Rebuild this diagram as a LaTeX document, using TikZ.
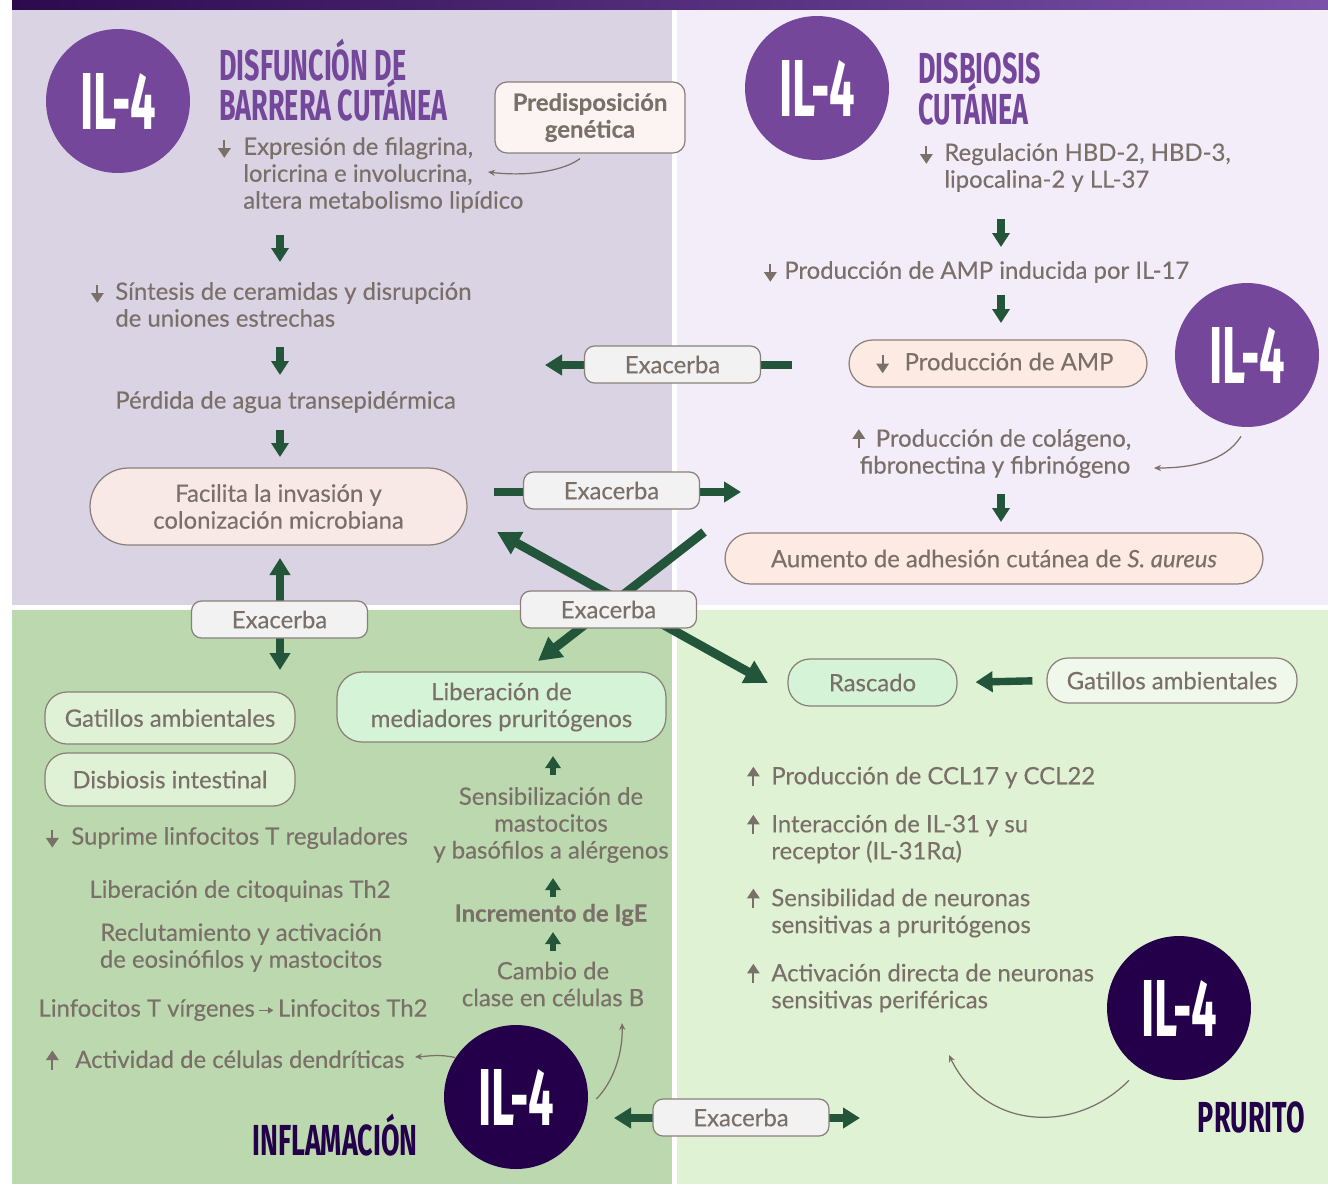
\documentclass[tikz,border=0pt]{standalone}
\usepackage{fontspec}
\setmainfont{Lato}[FakeBold=0.3]
\newfontfamily\headfont[FakeStretch=0.62]{Fira Sans}
\newfontfamily\ilfont[FakeStretch=0.56]{Fira Sans}
\usepackage{tikz}
\usetikzlibrary{arrows.meta,positioning,calc}

\definecolor{bara}{HTML}{2B0A4E}
\definecolor{barb}{HTML}{7A50A8}
\definecolor{tlbg}{HTML}{D9D3E3}
\definecolor{trbg}{HTML}{F2EDF8}
\definecolor{blbg}{HTML}{BBD8AE}
\definecolor{brbg}{HTML}{E0F2D4}
\definecolor{ilpurple}{HTML}{74479B}
\definecolor{ildark}{HTML}{24004A}
\definecolor{txtc}{HTML}{7A7069}
\definecolor{boxline}{HTML}{8A8079}
\definecolor{arrg}{HTML}{23553A}
\definecolor{predfill}{HTML}{FCF4F2}
\definecolor{facilfill}{HTML}{F8E9E6}
\definecolor{ampfill}{HTML}{FDEAE2}
\definecolor{exfill}{HTML}{F2F2F2}
\definecolor{rascfill}{HTML}{D5F3D7}
\definecolor{gatRfill}{HTML}{EFF8EA}
\definecolor{gatLfill}{HTML}{DFF2D6}

\newcommand\bodysize{\fontsize{13.6}{15.3}\selectfont}
\newcommand\hdrfont{\headfont\bfseries\fontsize{24.7}{23}\selectfont\lineskiplimit=-100pt\relax\lineskip=0pt\relax}
% small gray arrows set before a line of text
\newcommand\dn[1]{\makebox[0pt]{\tikz[baseline=0pt]\draw[draw=txtc,line width=1.2pt,-{Triangle[width=7pt,length=5.5pt]}] (0pt,8.5pt) -- (0pt,-1.7pt);}\hspace*{#1}}
\newcommand\upa[1]{\makebox[0pt]{\tikz[baseline=0pt]\draw[draw=txtc,line width=1.2pt,-{Triangle[width=7pt,length=5.5pt]}] (0pt,-1pt) -- (0pt,10pt);}\hspace*{#1}}
\newcommand\rarr{\,\tikz[baseline=0pt]\draw[draw=txtc,line width=0.7pt,-{Triangle[width=3.5pt,length=3pt]}] (0pt,3.6pt) -- (8pt,3.6pt);\,}

\begin{document}
\begin{tikzpicture}[x=0.02cm,y=-0.02cm,
  txt/.style={font=\bodysize,text=txtc,inner sep=0pt,align=left},
  ctxt/.style={txt,align=center},
  box/.style={draw=boxline,line width=0.7pt,text=txtc,font=\bodysize,align=center,inner sep=0pt},
  exbox/.style={box,fill=exfill,rounded corners=0.2cm,minimum width=3.52cm,minimum height=0.74cm},
  il/.style={circle,fill=ilpurple,text=white,minimum size=2.88cm,inner sep=0pt,font=\ilfont\bfseries\fontsize{46}{46}\selectfont},
  ildk/.style={il,fill=ildark},
  hdr/.style={font=\hdrfont,text=ilpurple,inner sep=0pt,align=left},
  garrow/.style={draw=arrg,line width=4.2pt,-{Triangle[width=0.4cm,length=0.34cm]}},
  gboth/.style={draw=arrg,line width=4.2pt,{Triangle[width=0.4cm,length=0.34cm]}-{Triangle[width=0.4cm,length=0.34cm]}},
  gflow/.style={draw=arrg,line width=4.5pt,-{Triangle[width=0.34cm,length=0.28cm]}},
  gsmall/.style={draw=arrg,line width=3.7pt,-{Triangle[width=0.3cm,length=0.24cm]}},
  gdiag/.style={draw=arrg,line width=5.1pt,-{Triangle[width=0.48cm,length=0.46cm]}},
  gdiagb/.style={gdiag,{Triangle[width=0.48cm,length=0.46cm]}-{Triangle[width=0.48cm,length=0.46cm]}},
  pointer/.style={draw=txtc,line width=0.7pt,-{Stealth[length=4pt,width=3.5pt]}}
]
\useasboundingbox (0,0) rectangle (1328,1184);

% panels
\fill[white] (0,0) rectangle (1328,1184);
\shade[left color=bara,right color=barb] (12,0) rectangle (1328,9);
\fill[tlbg] (12,10) rectangle (672,605);
\fill[trbg] (677,10) rectangle (1328,605);
\fill[blbg] (12,610) rectangle (672,1184);
\fill[brbg] (677,610) rectangle (1328,1184);

% flow arrows
\coordinate (fa1) at (280,235); \coordinate (fa2) at (280,262);
\coordinate (fb1) at (280,347); \coordinate (fb2) at (280,375);
\coordinate (fc1) at (280,430); \coordinate (fc2) at (280,457);
\draw[gflow] (fa1) -- (fa2);
\draw[gflow] (fb1) -- (fb2);
\draw[gflow] (fc1) -- (fc2);
\coordinate (fd1) at (1001,219); \coordinate (fd2) at (1001,247);
\coordinate (fe1) at (1001,295); \coordinate (fe2) at (1001,323);
\coordinate (ff1) at (1001,494); \coordinate (ff2) at (1001,522);
\draw[gflow] (fd1) -- (fd2);
\draw[gflow] (fe1) -- (fe2);
\draw[gflow] (ff1) -- (ff2);
\coordinate (fg1) at (553,775); \coordinate (fg2) at (553,756);
\coordinate (fh1) at (553,897); \coordinate (fh2) at (553,878);
\coordinate (fi1) at (553,951); \coordinate (fi2) at (553,932);
\draw[gsmall] (fg1) -- (fg2);
\draw[gsmall] (fh1) -- (fh2);
\draw[gsmall] (fi1) -- (fi2);

% Exacerba connectors (behind the boxes)
\coordinate (exAr) at (792,365); \coordinate (exAl) at (545,365);
\coordinate (exBl) at (494,492); \coordinate (exBr) at (741,492);
\coordinate (xA1) at (497,532); \coordinate (xA2) at (768,683);
\coordinate (xB1) at (704,532); \coordinate (xB2) at (538,661);
\coordinate (exLt) at (280,558); \coordinate (exLb) at (280,670);
\coordinate (exDl) at (614,1118); \coordinate (exDr) at (860,1118);
\draw[garrow] (exAr) -- (exAl);
\draw[garrow] (exBl) -- (exBr);
\draw[gdiagb] (xA1) -- (xA2);
\draw[gdiag] (xB1) -- (xB2);
\draw[gboth] (exLt) -- (exLb);
\draw[gboth] (exDl) -- (exDr);

% DISFUNCION DE BARRERA (top left)
\node[il] (ilA) at (118,101) {IL-4};
\node[hdr,anchor=west] (hdrA) at (219,80) {DISFUNCIÓN DE\\BARRERA CUTÁNEA};
\node[box,fill=predfill,rounded corners=0.24cm,minimum width=3.8cm,minimum height=1.42cm,font=\bodysize\bfseries] (pred) at (590,117.5) {Predisposición\\genética};
\node[txt,anchor=west] (expr) at (224,175) {\dn{0.38cm}Expresión de filagrina,\\\hspace*{0.38cm}loricrina e involucrina,\\\hspace*{0.38cm}altera metabolismo lipídico};
\node[txt,anchor=west] (sint) at (97,304.5) {\dn{0.36cm}Síntesis de ceramidas y disrupción\\\hspace*{0.36cm}de uniones estrechas};
\node[txt,anchor=west] (perd) at (115,402) {Pérdida de agua transepidérmica};
\node[box,fill=facilfill,rounded corners=0.77cm,minimum width=7.54cm,minimum height=1.54cm] (facil) at (278.5,506.5) {Facilita la invasión y\\colonización microbiana};

% DISBIOSIS (top right)
\node[il] (ilB) at (817,88) {IL-4};
\node[hdr,anchor=west] (hdrB) at (918,89) {DISBIOSIS\\CUTÁNEA};
\node[txt,anchor=west] (regul) at (926,167.5) {\dn{0.36cm}Regulación HBD-2, HBD-3,\\\hspace*{0.36cm}lipocalina-2 y LL-37};
\node[txt,anchor=west] (prodil) at (770,272) {\dn{0.28cm}Producción de AMP inducida por IL-17};
\node[box,fill=ampfill,rounded corners=0.47cm,minimum width=5.96cm,minimum height=0.94cm] (amp) at (998,363.5) {\dn{0.44cm}Producción de AMP};
\node[il] (ilC) at (1247,355) {IL-4};
\node[ctxt] (colag) at (995,453) {\upa{0.34cm}Producción de colágeno,\\fibronectina y fibrinógeno};
\node[box,fill=ampfill,rounded corners=0.51cm,minimum width=10.76cm,minimum height=1.02cm] (aum) at (994,558.5) {Aumento de adhesión cutánea de \textit{S. aureus}};

% Exacerba boxes
\node[exbox] (exA) at (672.5,364.5) {Exacerba};
\node[exbox] (exB) at (611.5,490.5) {Exacerba};
\node[exbox] (exC) at (608.5,609.5) {Exacerba};
\node[exbox] (exL) at (279.5,619.5) {Exacerba};
\node[exbox] (exD) at (741,1117.5) {Exacerba};

% PRURITO (bottom right)
\node[box,fill=rascfill,rounded corners=0.44cm,minimum width=3.38cm,minimum height=0.94cm] (rasc) at (872.5,682.5) {Rascado};
\node[box,fill=gatRfill,rounded corners=0.42cm,minimum width=5cm,minimum height=0.9cm] (gatR) at (1172,680.5) {Gatillos ambientales};
\draw[garrow,shorten <=0.28cm,shorten >=0.36cm] (gatR.west) -- (rasc.east);
\node[txt,anchor=west] (ccl) at (753,777) {\upa{0.36cm}Producción de CCL17 y CCL22};
\node[txt,anchor=west] (il31) at (753,838.5) {\upa{0.36cm}Interacción de IL-31 y su\\\hspace*{0.36cm}receptor (IL-31Rα)};
\node[txt,anchor=west] (sens) at (753,912.5) {\upa{0.36cm}Sensibilidad de neuronas\\\hspace*{0.36cm}sensitivas a pruritógenos};
\node[txt,anchor=west] (activ) at (753,987.5) {\upa{0.36cm}Activación directa de neuronas\\\hspace*{0.36cm}sensitivas periféricas};
\node[ildk] (ilE) at (1179,1008) {IL-4};
\node[hdr,text=ildark,anchor=east] (prur) at (1305,1117) {PRURITO};

% INFLAMACION (bottom left)
\node[box,fill=gatLfill,rounded corners=0.44cm,minimum width=5cm,minimum height=1.04cm] (gatL) at (170,718) {Gatillos ambientales};
\node[box,fill=gatLfill,rounded corners=0.44cm,minimum width=5cm,minimum height=1.06cm] (disb) at (170,779.5) {Disbiosis intestinal};
\node[box,fill=rascfill,rounded corners=0.5cm,minimum width=6.58cm,minimum height=1.4cm] (liber) at (501.5,707) {Liberación de\\mediadores pruritógenos};
\node[ctxt] (sensib) at (551,825) {Sensibilización de\\mastocitos\\y basófilos a alérgenos};
\node[ctxt,font=\bodysize\bfseries] (ige) at (551,915) {Incremento de IgE};
\node[ctxt] (cambio) at (553,984) {Cambio de\\clase en células B};
\node[txt,anchor=west] (supr) at (52,838) {\dn{0.38cm}Suprime linfocitos T reguladores};
\node[ctxt] (citoq) at (240,891) {Liberación de citoquinas Th2};
\node[ctxt] (reclut) at (241,947.5) {Reclutamiento y activación\\de eosinófilos y mastocitos};
\node[ctxt] (linf) at (233,1010) {Linfocitos T vírgenes\rarr Linfocitos Th2};
\node[txt,anchor=west] (dendr) at (52,1060) {\upa{0.46cm}Actividad de células dendríticas};
\node[ildk] (ilD) at (516,1097) {IL-4};
\node[hdr,text=ildark] (inflam) at (335,1135) {INFLAMACIÓN};

% thin curved pointers
\coordinate (predtip) at (488,172);
\draw[pointer] ($(pred.south)+(-10,5)$) .. controls (565,170) and (530,177) .. (predtip);
\coordinate (colagtip) at (1154,468);
\draw[pointer] ($(ilC.south)+(-6,9)$) .. controls (1225,462) and (1190,468) .. (colagtip);
\coordinate (dendrtip) at (415,1057);
\draw[pointer] (ilD.147) .. controls (440,1054) and (430,1056) .. (dendrtip);
\coordinate (cambiotip) at (622,1023);
\draw[pointer] ($(ilD.east)+(8,2)$) .. controls (615,1080) and (623,1050) .. (cambiotip);
\coordinate (activtip) at (949,1055);
\draw[pointer] ($(ilE.south)+(-50,0)$) .. controls (1075,1135) and (985,1130) .. (activtip);
\end{tikzpicture}
\end{document}
